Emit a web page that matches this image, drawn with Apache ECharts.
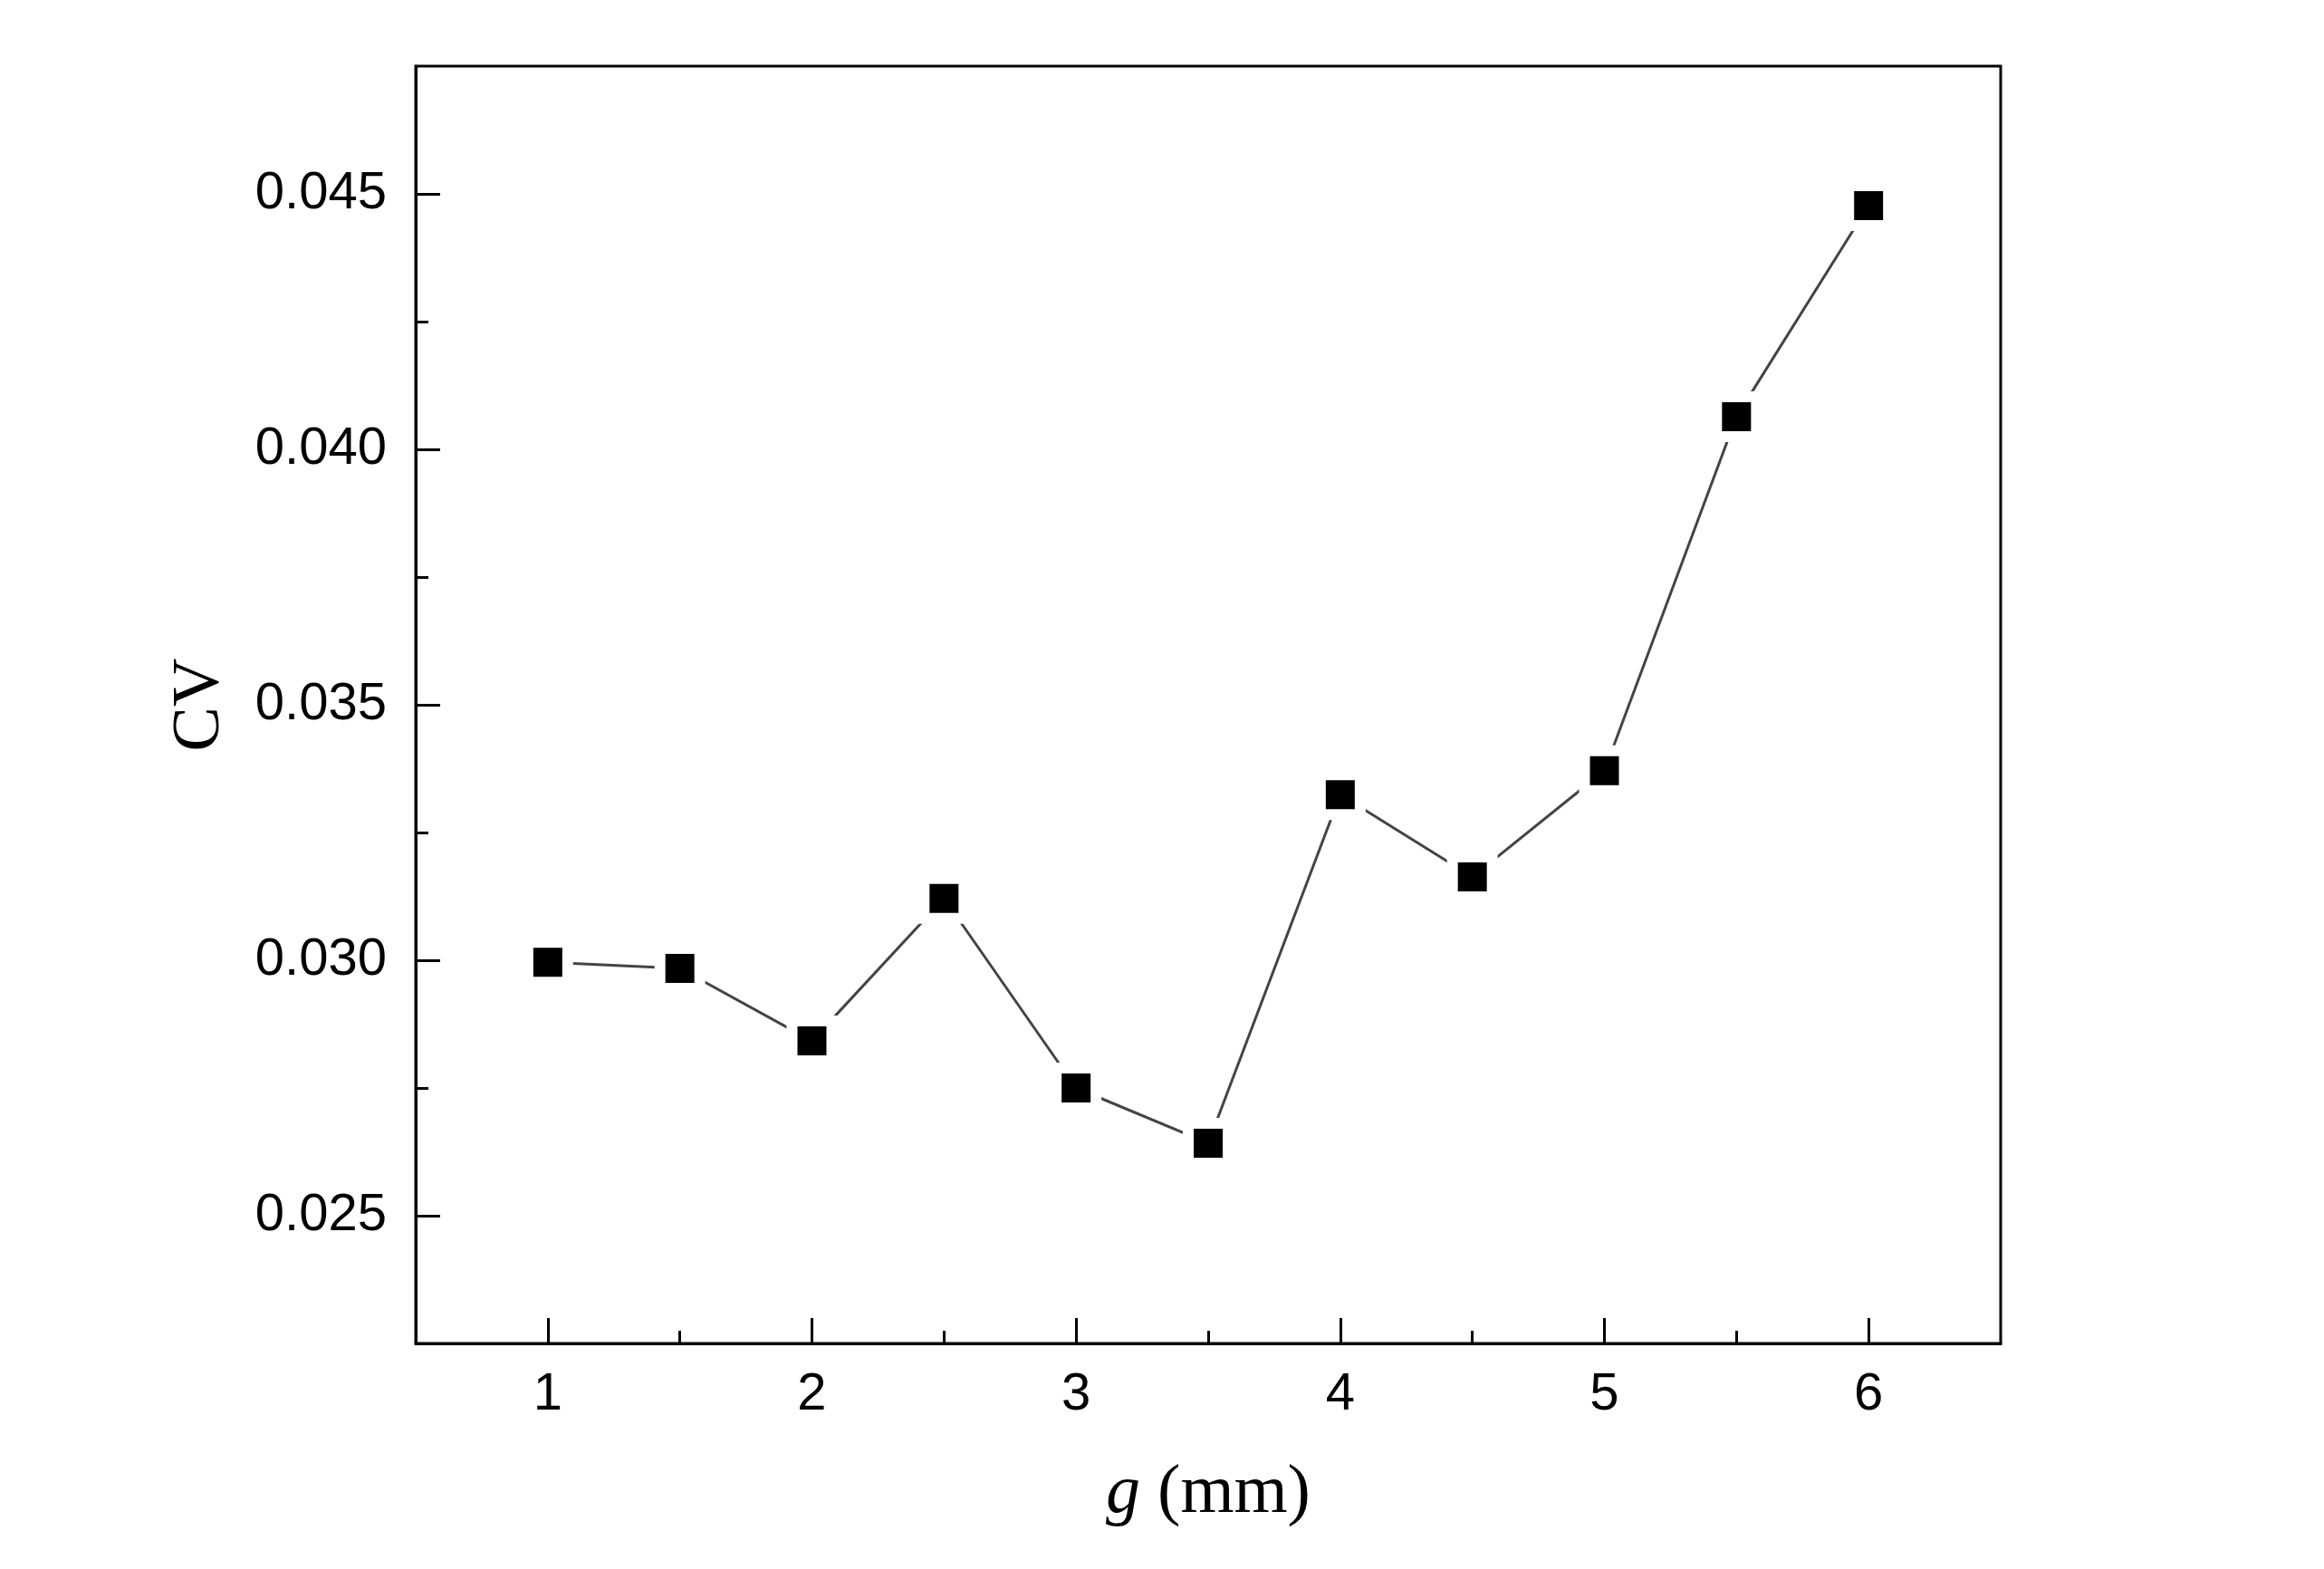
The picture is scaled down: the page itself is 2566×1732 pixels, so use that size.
<!DOCTYPE html>
<html>
<head>
<meta charset="utf-8">
<script src="https://cdn.jsdelivr.net/npm/echarts@6/dist/echarts.min.js"></script>
<style>
  html, body { margin: 0; padding: 0; background: #fff; }
  #chart { width: 2566px; height: 1732px; }
</style>
</head>
<body>
<div id="chart"></div>
<script>
// gap g (mm) and coefficient of variation
var gValues = [1, 1.5, 2, 2.5, 3, 3.5, 4, 4.5, 5, 5.5, 6];
var cvValues = [0.02996, 0.02984, 0.02842, 0.03121, 0.02750, 0.02642, 0.03324, 0.03163, 0.03371, 0.04064, 0.04477];

var xMajorTicks = [1, 2, 3, 4, 5, 6];
var xMinorTicks = [1.5, 2.5, 3.5, 4.5, 5.5];
var yMajorTicks = [0.025, 0.030, 0.035, 0.040, 0.045];
var yMinorTicks = [0.0275, 0.0325, 0.0375, 0.0425];

var sans = "'Liberation Sans', Arial, sans-serif";
var serif = "'Liberation Serif', 'Times New Roman', serif";

var chart = echarts.init(document.getElementById("chart"));

var option = {
  backgroundColor: "#fff",
  animation: false,
  grid: {
    left: 459,
    top: 73,
    width: 1750,
    height: 1410,
    show: true,
    borderColor: "#000",
    borderWidth: 3,
    containLabel: false
  },
  xAxis: [
    {
      type: "value",
      position: "bottom",
      min: 0.5,
      max: 6.5,
      name: "{i|g} (mm)",
      nameLocation: "middle",
      nameGap: 128,
      nameTextStyle: {
        fontFamily: serif,
        fontSize: 76,
        color: "#000",
        rich: {
          i: { fontFamily: serif, fontSize: 76, fontStyle: "italic", color: "#000" }
        }
      },
      axisLine: { show: true, lineStyle: { color: "#000", width: 3 } },
      axisTick: {
        show: true,
        inside: true,
        length: 28,
        customValues: xMajorTicks,
        lineStyle: { color: "#000", width: 3 }
      },
      axisLabel: {
        customValues: xMajorTicks,
        margin: 28,
        fontFamily: sans,
        fontSize: 58,
        color: "#000"
      },
      splitLine: { show: false }
    },
    {
      type: "value",
      position: "bottom",
      min: 0.5,
      max: 6.5,
      axisLine: { show: false },
      axisTick: {
        show: true,
        inside: true,
        length: 14,
        customValues: xMinorTicks,
        lineStyle: { color: "#000", width: 3 }
      },
      axisLabel: { show: false },
      splitLine: { show: false }
    }
  ],
  yAxis: [
    {
      type: "value",
      position: "left",
      min: 0.0225,
      max: 0.0475,
      name: "CV",
      nameLocation: "middle",
      nameGap: 200,
      nameTextStyle: { fontFamily: serif, fontSize: 74, color: "#000" },
      axisLine: { show: true, lineStyle: { color: "#000", width: 3 } },
      axisTick: {
        show: true,
        inside: true,
        length: 27,
        customValues: yMajorTicks,
        lineStyle: { color: "#000", width: 3 }
      },
      axisLabel: {
        customValues: yMajorTicks,
        margin: 32,
        fontFamily: sans,
        fontSize: 58,
        color: "#000",
        formatter: function (v) {
          return v.toFixed(3);
        }
      },
      splitLine: { show: false }
    },
    {
      type: "value",
      position: "left",
      min: 0.0225,
      max: 0.0475,
      axisLine: { show: false },
      axisTick: {
        show: true,
        inside: true,
        length: 14,
        customValues: yMinorTicks,
        lineStyle: { color: "#000", width: 3 }
      },
      axisLabel: { show: false },
      splitLine: { show: false }
    }
  ],
  series: [
    {
      name: "CV",
      type: "line",
      xAxisIndex: 0,
      yAxisIndex: 0,
      data: gValues.map(function (g, i) {
        return [g, cvValues[i]];
      }),
      symbol: "rect",
      symbolSize: 44,
      lineStyle: { color: "#444", width: 3 },
      itemStyle: { color: "#000", borderColor: "#fff", borderWidth: 12 }
    }
  ]
};

chart.setOption(option);
window.addEventListener("resize", function () {
  chart && chart.resize();
});
</script>
</body>
</html>
